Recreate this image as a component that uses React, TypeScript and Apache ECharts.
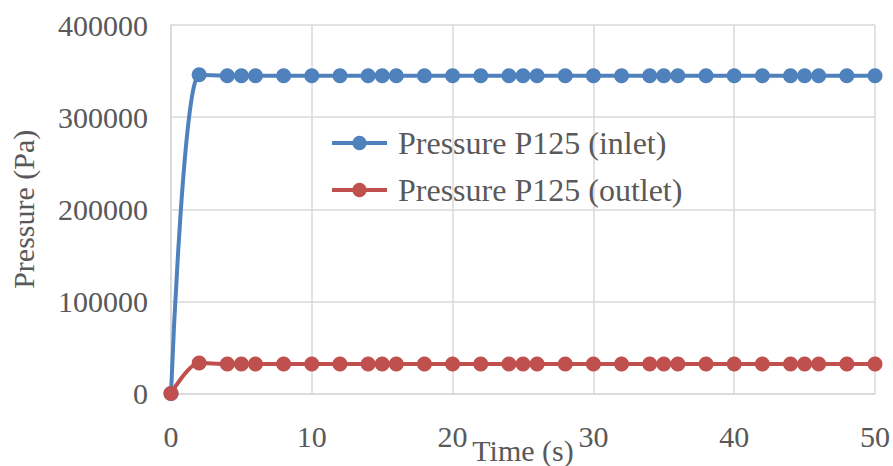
import React, { useEffect, useRef } from "react";
import * as echarts from "echarts";

const timeValues = [0, 2, 4, 5, 6, 8, 10, 12, 14, 15, 16, 18, 20, 22, 24, 25, 26, 28, 30, 32, 34, 35, 36, 38, 40, 42, 44, 45, 46, 48, 50];
const inletValues = [0, 346000, 345000, 345000, 345000, 345000, 345000, 345000, 345000, 345000, 345000, 345000, 345000, 345000, 345000, 345000, 345000, 345000, 345000, 345000, 345000, 345000, 345000, 345000, 345000, 345000, 345000, 345000, 345000, 345000, 345000];
const outletValues = [0, 33000, 32000, 32000, 32000, 32000, 32000, 32000, 32000, 32000, 32000, 32000, 32000, 32000, 32000, 32000, 32000, 32000, 32000, 32000, 32000, 32000, 32000, 32000, 32000, 32000, 32000, 32000, 32000, 32000, 32000];
const seriesNames = ["Pressure P125 (inlet)", "Pressure P125 (outlet)"];
const xAxisTitle = "Time (s)";
const yAxisTitle = "Pressure (Pa)";

const FONT = "'Liberation Serif', 'Times New Roman', serif";
const TEXT = "#595959";
const GRIDC = "#D9D9D9";

export default function App() {
  const ref = useRef<HTMLDivElement>(null);
  useEffect(() => {
    if (!ref.current) return;
    const chart = echarts.init(ref.current, undefined, { renderer: "svg" });
    const mk = (vals: number[]) => timeValues.map((t, i) => [t, vals[i]]);
    chart.setOption({
      animation: false,
      backgroundColor: "#ffffff",
      textStyle: { fontFamily: FONT },
      grid: { left: 171, right: 18, top: 25, bottom: 72.5, containLabel: false, outerBoundsMode: "none" },
      legend: {
        orient: "vertical",
        left: 330,
        top: 127,
        padding: 0,
        itemWidth: 55,
        itemHeight: 18,
        itemGap: 15,
        lineStyle: { width: 4 },
        textStyle: { fontFamily: FONT, fontSize: 32, color: TEXT, padding: [0, 0, 0, 6] },
        data: seriesNames,
      },
      xAxis: {
        type: "value",
        min: 0,
        max: 50,
        interval: 10,
        name: xAxisTitle,
        nameLocation: "middle",
        nameGap: 42,
        nameMoveOverlap: false,
        nameTextStyle: { fontFamily: FONT, fontSize: 30, color: TEXT },
        axisLine: { show: true, lineStyle: { color: GRIDC, width: 1.5 } },
        axisTick: { show: false },
        axisLabel: { fontFamily: FONT, fontSize: 30, color: TEXT, margin: 28, formatter: (v: number) => String(v) },
        splitLine: { show: true, lineStyle: { color: GRIDC, width: 1.5 } },
      },
      yAxis: {
        type: "value",
        min: 0,
        max: 400000,
        interval: 100000,
        name: yAxisTitle,
        nameLocation: "middle",
        nameGap: 133,
        nameMoveOverlap: false,
        nameTextStyle: { fontFamily: FONT, fontSize: 30, color: TEXT },
        axisLine: { show: true, lineStyle: { color: GRIDC, width: 1.5 } },
        axisTick: { show: false },
        axisLabel: { fontFamily: FONT, fontSize: 30, color: TEXT, margin: 23, formatter: (v: number) => String(v) },
        splitLine: { show: true, lineStyle: { color: GRIDC, width: 1.5 } },
      },
      series: [
        {
          name: seriesNames[0],
          type: "line",
          data: mk(inletValues),
          smooth: 0.3,
          symbol: "circle",
          symbolSize: 15,
          itemStyle: { color: "#4F81BD" },
          lineStyle: { color: "#4F81BD", width: 4 },
          z: 2,
        },
        {
          name: seriesNames[1],
          type: "line",
          data: mk(outletValues),
          smooth: 0.3,
          symbol: "circle",
          symbolSize: 15,
          itemStyle: { color: "#C0504D" },
          lineStyle: { color: "#C0504D", width: 4 },
          z: 3,
        },
      ],
    });
    return () => chart.dispose();
  }, []);
  return <div ref={ref} style={{ width: 893, height: 466, position: "absolute", left: 0, top: 0 }} />;
}
